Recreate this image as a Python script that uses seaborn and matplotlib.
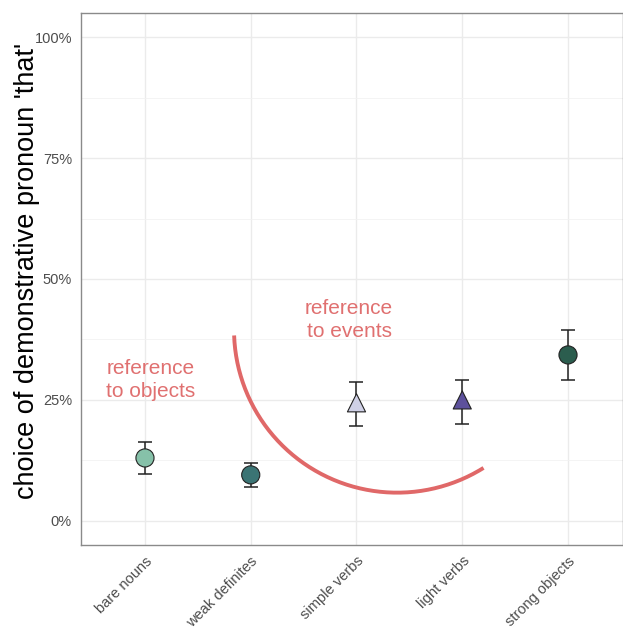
import numpy as np
import pandas as pd
import seaborn as sns
import matplotlib.pyplot as plt
from matplotlib.ticker import FuncFormatter, MultipleLocator

# values (percent)
categories = ['bare nouns', 'weak definites', 'simple verbs', 'light verbs', 'strong objects']
share = [13.0, 9.5, 24.4, 25.0, 34.3]
lower = [9.7, 7.0, 19.6, 20.0, 29.1]
upper = [16.3, 12.0, 28.7, 29.1, 39.5]
kind = ['object', 'object', 'event', 'event', 'object']
colors = ['#86c1a9', '#3b7474', '#cfd0e6', '#5d519c', '#2b5d4e']

df = pd.DataFrame({'category': categories, 'share': share,
                   'lower': lower, 'upper': upper, 'kind': kind})
df['x'] = np.arange(len(df))

sns.set_theme(style='whitegrid')
plt.rcParams['font.family'] = ['Liberation Sans', 'DejaVu Sans']

fig = plt.figure(figsize=(6.23, 6.29), dpi=100)
ax = fig.add_axes([81 / 623, 1 - 545 / 629, 542 / 623, 532 / 629])

# error bars
ax.errorbar(df['x'], df['share'],
            yerr=[df['share'] - df['lower'], df['upper'] - df['share']],
            fmt='none', ecolor='#222222', elinewidth=1.1, capsize=5, capthick=1.1, zorder=3)

sns.scatterplot(data=df, x='x', y='share', hue='category', palette=colors,
                style='kind', markers={'object': 'o', 'event': '^'},
                s=170, edgecolor='#222222', linewidth=0.8, legend=False, ax=ax, zorder=4)

# annotation arc (drawn in axes units so it stays circular)
arc_cx, arc_cy, arc_r = 2.384, 39.5, 163
t = np.radians(np.linspace(182, 302, 200))
ax.plot(arc_cx + arc_r * np.cos(t) / 105.7, arc_cy + arc_r * np.sin(t) / 4.84,
        color='#e06868', lw=2.8, solid_capstyle='butt', zorder=2)

ax.text(0.05, 29.1, 'reference\nto objects', color='#e07070', fontsize=15,
        ha='center', va='center', linespacing=1.3)
ax.text(1.93, 41.5, 'reference\nto events', color='#e07070', fontsize=15,
        ha='center', va='center', linespacing=1.3)

ax.set_xlim(-0.605, 4.52)
ax.set_ylim(-5, 105)
ax.set_xticks(df['x'])
ax.set_xticklabels(categories, rotation=45, ha='right', rotation_mode='anchor',
                   fontsize=10.5, color='#4d4d4d')
ax.yaxis.set_major_locator(MultipleLocator(25))
ax.yaxis.set_minor_locator(MultipleLocator(12.5))
ax.yaxis.set_major_formatter(FuncFormatter(lambda v, p: f'{v:.0f}%'))
ax.tick_params(axis='y', labelsize=10.5, labelcolor='#4d4d4d')
ax.tick_params(axis='both', which='major', length=3.5, width=0.8, color='#333333', pad=3)
ax.tick_params(axis='y', which='minor', length=0)
ax.grid(True, which='major', color='#ebebeb', lw=1.0)
ax.grid(True, which='minor', axis='y', color='#f2f2f2', lw=0.6)
ax.set_axisbelow(True)
for sp in ax.spines.values():
    sp.set_color('#8a8a8a')
    sp.set_linewidth(1.0)

ax.set_xlabel('')
ax.set_ylabel("choice of demonstrative pronoun 'that'", fontsize=19.5, color='black')
ax.yaxis.set_label_coords(-54 / 542, 0.515)
ax.yaxis.label.set_va('center')

fig.savefig('out.png', dpi=100)
